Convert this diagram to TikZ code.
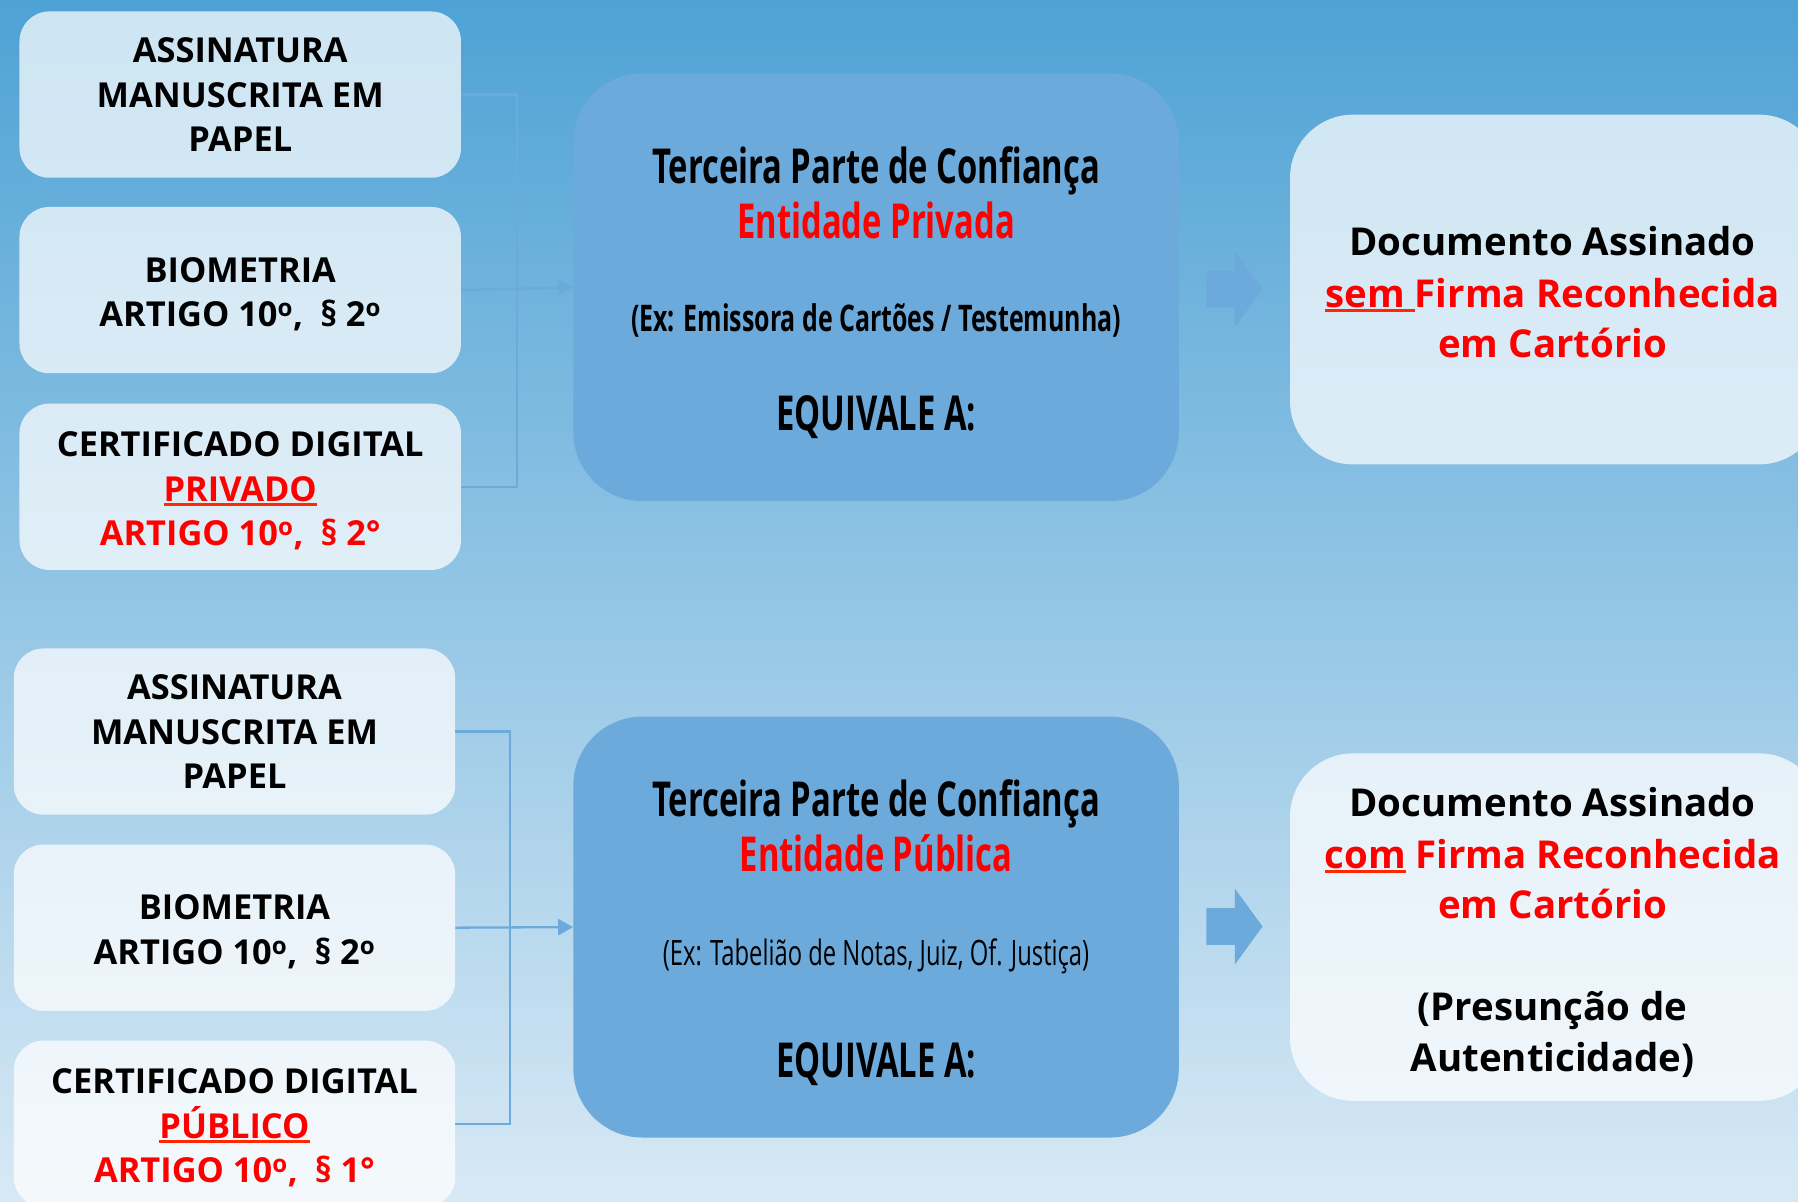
\documentclass[tikz,border=0pt]{standalone}
\usepackage{fontspec}
\setmainfont{Open Sans}
\newfontfamily\cond{Open Sans}[FakeStretch=0.68]
\usetikzlibrary{arrows.meta}
\definecolor{bgtop}{RGB}{78,162,213}
\definecolor{bgbot}{RGB}{216,233,245}
\definecolor{cboxc}{RGB}{109,170,220}
\definecolor{myred}{RGB}{255,0,0}
\definecolor{ulred}{RGB}{255,40,0}
\newcommand\redul[1]{\setbox0\hbox{#1}\rlap{\color{ulred}\rule[-4pt]{\wd0}{2.5pt}}\box0}
\newcommand\ordo{\textsuperscript{o}}
\newcommand\lift{\rule{0pt}{29pt}}
\begin{document}
\begin{tikzpicture}[x=1pt,y=-1pt,
  lbox/.style={rounded corners=26, fill=white, fill opacity=0.72, text opacity=1,
    minimum width=385, minimum height=145, align=center, inner sep=0,
    font=\fontsize{30}{39}\selectfont\bfseries},
  cboxs/.style={rounded corners=60, fill=cboxc, minimum width=528, minimum height=373},
  rbox/.style={rounded corners=55, fill=white, fill opacity=0.72, minimum width=464, minimum height=305},
  ctitle/.style={anchor=base, inner sep=0, font=\cond\bfseries\fontsize{42}{42}\selectfont},
  cex/.style={anchor=base, inner sep=0, font=\cond\bfseries\fontsize{32}{32}\selectfont},
  cexr/.style={anchor=base, inner sep=0, font=\cond\fontsize{30.5}{30.5}\selectfont},
  rtxt/.style={anchor=base, inner sep=0, font=\bfseries\fontsize{33.5}{33.5}\selectfont},
  conn/.style={draw=cboxc, line width=2},
  tip/.style={-{Triangle[length=13,width=14]}},
  barrow/.style={fill=cboxc}
]
\useasboundingbox (0,0) rectangle (1568,1048);
\clip (0,0) rectangle (1568,1048);
\fill[top color=bgtop, bottom color=bgbot] (0,0) rectangle (1568,1048);

% top row
\node[lbox] (t1) at (209.5,82.5) {ASSINATURA\\MANUSCRITA EM\\PAPEL};
\node[lbox] (t2) at (209.5,253) {\lift BIOMETRIA\\ARTIGO 10\ordo,\enspace§ 2\ordo};
\node[lbox] (t3) at (209.5,424.5) {\lift CERTIFICADO DIGITAL\\\textcolor{myred}{\redul{PRIVADO}}\\\textcolor{myred}{ARTIGO 10\ordo,\enspace§ 2°}};
\node[cboxs] (c1) at (764,250.5) {};
\node[rbox] (r1) at (1357,252.5) {};

\coordinate (tbus) at (451,0);
\draw[conn] (t1.east) -- (t1.east -| tbus) |- (t3.east);
\draw[conn,tip] (t2.east) -- (c1.west);

\node[ctitle] (c1a) at (764,160) {Terceira Parte de Confiança};
\node[ctitle, text=myred] (c1b) at (764,208) {Entidade Privada};
\node[cex] (c1c) at (764,289) {(Ex: Emissora de Cartões / Testemunha)};
\node[ctitle] (c1d) at (764,375) {EQUIVALE A:};

\coordinate (ba1) at (1052,252);
\fill[barrow] (ba1) ++(0,-16) -- ++(25,0) -- ++(0,-17) -- ++(24,33) -- ++(-24,33) -- ++(0,-17) -- ++(-25,0) -- cycle;

\node[rtxt] (r1a) at (1354,223) {Documento Assinado};
\node[rtxt, text=myred] (r1b) at (1354,268) {\redul{sem\ }Firma Reconhecida};
\node[rtxt, text=myred] (r1c) at (1354,312) {em Cartório};

% bottom row
\node[lbox] (b1) at (204.5,638) {ASSINATURA\\MANUSCRITA EM\\PAPEL};
\node[lbox] (b2) at (204.5,809) {\lift BIOMETRIA\\ARTIGO 10\ordo,\enspace§ 2\ordo};
\node[lbox] (b3) at (204.5,980) {\lift CERTIFICADO DIGITAL\\\textcolor{myred}{\redul{PÚBLICO}}\\\textcolor{myred}{ARTIGO 10\ordo,\enspace§ 1°}};
\node[cboxs, minimum height=367] (c2) at (764,808.5) {};
\node[rbox, minimum height=303] (r2) at (1357,808.5) {};

\coordinate (bbus) at (445,0);
\draw[conn] (b1.east) -- (b1.east -| bbus) |- (b3.east);
\draw[conn,tip] (b2.east) -- (c2.west);

\node[ctitle] (c2a) at (764,712) {Terceira Parte de Confiança};
\node[ctitle, text=myred] (c2b) at (764,760) {Entidade Pública};
\node[cexr] (c2c) at (764,842) {(Ex: Tabelião de Notas, Juiz, Of. Justiça)};
\node[ctitle] (c2d) at (764,940) {EQUIVALE A:};

\coordinate (ba2) at (1052,808);
\fill[barrow] (ba2) ++(0,-16) -- ++(25,0) -- ++(0,-17) -- ++(24,33) -- ++(-24,33) -- ++(0,-17) -- ++(-25,0) -- cycle;

\node[rtxt] (r2a) at (1354,712) {Documento Assinado};
\node[rtxt, text=myred] (r2b) at (1354,757) {\redul{com}\ Firma Reconhecida};
\node[rtxt, text=myred] (r2c) at (1354,801) {em Cartório};
\node[rtxt] (r2d) at (1354,890) {(Presunção de};
\node[rtxt] (r2e) at (1354,934) {Autenticidade)};
\end{tikzpicture}
\end{document}
